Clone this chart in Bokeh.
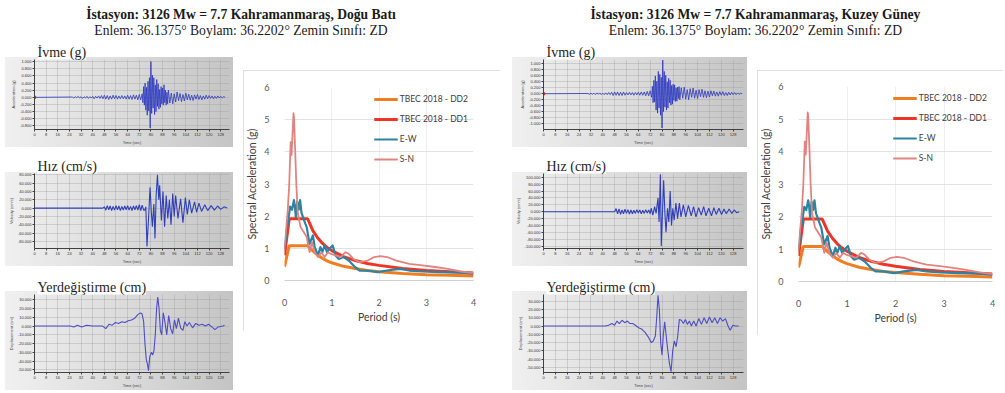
from bokeh.plotting import figure
from bokeh.models import Div, Spacer, Range1d, FixedTicker, NumeralTickFormatter
from bokeh.layouts import row, column
from bokeh.embed import file_html
from bokeh.resources import INLINE

# ---------------- station headers ----------------
HEAD_EW = "İstasyon: 3126 Mw = 7.7 Kahramanmaraş, Doğu Batı"
HEAD_NS = "İstasyon: 3126 Mw = 7.7 Kahramanmaraş, Kuzey Güney"
SUBHEAD = "Enlem: 36.1375° Boylam: 36.2202° Zemin Sınıfı: ZD"

PANEL_TITLES = ["İvme (g)", "Hız (cm/s)", "Yerdeğiştirme (cm)"]
TIME_TICKS = [0, 8, 16, 24, 32, 40, 48, 56, 64, 72, 80, 88, 96, 104, 112, 120, 128]

# ---------------- E-W (Doğu Batı) records ----------------
ACC_EW_NOISE = [0.01, -0.02, 0.02, -0.01, 0.03, -0.02, 0.02, -0.03, 0.02, -0.02,
                0.03, -0.03, 0.02, -0.02, 0.03, -0.04, 0.03, -0.02, 0.04, -0.03,
                0.05, -0.04, 0.06, -0.05, 0.05, -0.06, 0.04, -0.05, 0.06, -0.04,
                0.05, -0.05, 0.04, -0.04, 0.05, -0.04, 0.04, -0.05, 0.06, -0.05,
                0.05, -0.06, 0.07, -0.05, 0.06, -0.07, 0.08, -0.07, 0.10]          # t = 26 .. 74, dt 1
ACC_EW_STRONG = [-0.15, 0.30, -0.22, 0.40, -0.36, 0.28, -0.50, 0.45, -0.38, 0.55,
                 -0.86, 1.00, -0.45, 0.62, -0.30, 0.55, -0.48, 0.35, -0.40, 0.50,
                 -0.25, 0.38, -0.33, 0.22, -0.28, 0.30, -0.18, 0.26, -0.22, 0.35,
                 -0.15, 0.20, -0.22, 0.14, -0.18, 0.20]                            # t = 74.5 .. 92, dt 0.5
ACC_EW_TAIL = [-0.16, 0.12, -0.18, 0.10, -0.13, 0.15, -0.09, 0.11, -0.12, 0.08,
               -0.10, 0.12, -0.07, 0.09, -0.08, 0.06, -0.09, 0.07, -0.05, 0.08,
               -0.06, 0.05, -0.07, 0.04, -0.05, 0.06, -0.04, 0.05, -0.03, 0.04,
               -0.04, 0.03, -0.03, 0.04, -0.02, 0.03, -0.02, 0.02, 0.0]            # t = 93 .. 131, dt 1

VEL_EW_NOISE = [3, -5, 6, -4, 5, -6, 4, -5, 6, -4, 5, -6, 4, -5, 5, -4, 6, -5, 4, -6,
                5, -4, 6, -5, 8, -6, 7, -5]                                          # t = 48 .. 75, dt 1
VEL_EW_T = [75.8, 76.5, 77.3, 78.3, 79.4, 80.3, 81.0, 82.0, 82.8, 83.6,
            84.5, 85.4, 86.0, 87.2, 88.3, 89.4, 90.5, 91.6, 92.7, 93.8,
            95.0, 96.0, 97.0, 98.6, 100.4, 102.0, 103.7, 105.0, 106.4, 108.0,
            110.0, 111.4, 113.0, 114.8, 117.0, 119.0, 121.4, 123.6, 125.8, 128.0,
            130.2, 132.4]
VEL_EW_V = [-5, 3, -92, -30, 50, -10, -45, 10, -73, 30,
            80, 20, 55, -30, 40, -45, 30, -25, 20, -40,
            35, -20, 30, -25, 22, -35, 25, -15, 20, -12,
            15, -10, 12, -8, 8, -6, 6, -5, 5, -3,
            3, 0]

DISP_EW_T = [0, 24.7, 27.0, 29.5, 32.4, 35.8, 40.0, 46.8, 49.0, 51.2,
             53.4, 55.6, 57.8, 60.0, 62.2, 64.4, 66.6, 68.9, 71.0, 72.8,
             73.9, 75.0, 75.9, 76.8, 77.7, 78.3, 79.2, 80.3, 81.2, 82.1,
             83.0, 83.9, 84.7, 85.6, 86.5, 87.4, 88.5, 89.6, 90.9, 92.2,
             93.6, 94.9, 96.2, 97.5, 98.9, 100.4, 102.0, 103.3, 104.8, 106.4,
             108.6, 110.8, 113.0, 115.2, 117.4, 119.6, 121.8, 124.0, 126.2, 129.5,
             130.6]
DISP_EW_V = [0, 0, -1, 1, -1, 1, 0, 0, -3, 2,
             1, 4, 3, 5, 4, 6, 7, 9, 13, 15,
             14, 5, -20, -38, -44, -51, -35, -30, -33, -28,
             -10, 20, 33, 20, -5, -10, 15, 5, -10, 12,
             -3, -9, 7, -3, 9, -2, -5, 5, 0, 4,
             -2, 3, 1, 2, 0, 2, -1, -4, -1, 0,
             1]

# ---------------- N-S (Kuzey Güney) records ----------------
ACC_NS_NOISE = [0.01, -0.02, 0.02, -0.02, 0.02, -0.03, 0.03, -0.02, 0.03, -0.03,
                0.02, -0.03, 0.03, -0.03, 0.04, -0.03, 0.05, -0.06, 0.06, -0.05,
                0.06, -0.06, 0.05, -0.06, 0.06, -0.05, 0.04, -0.04, 0.05, -0.04,
                0.04, -0.05, 0.04, -0.04, 0.05, -0.05, 0.06, -0.05, 0.06, -0.07,
                0.08, -0.07, 0.10, -0.12]                                          # t = 30 .. 73, dt 1
ACC_NS_STRONG = [0.25, -0.30, 0.45, -0.28, 0.60, -0.55, 0.42, -0.65, 0.75, -0.48,
                 0.65, -0.72, 0.55, -1.15, 1.13, -0.60, 0.75, -0.45, 0.62, -0.55,
                 0.40, -0.48, 0.52, -0.30, 0.45, -0.38, 0.28, -0.35, 0.32, -0.22,
                 0.30, -0.26, 0.20, -0.25, 0.22, -0.16, 0.24, -0.20]              # t = 73.5 .. 92, dt 0.5
ACC_NS_TAIL = [0.20, -0.15, 0.22, -0.18, 0.14, -0.20, 0.17, -0.12, 0.19, -0.15,
               0.12, -0.16, 0.14, -0.10, 0.15, -0.12, 0.10, -0.13, 0.09, -0.11,
               0.10, -0.07, 0.09, -0.08, 0.06, -0.08, 0.07, -0.05, 0.07, -0.06,
               0.04, -0.06, 0.05, -0.04, 0.05, -0.03, 0.04, -0.03, 0.03, -0.02,
               0.02, 0.0]                                                          # t = 93 .. 134, dt 1

VEL_NS_NOISE = [0, 9, -6, 8, -8, 5, -6, 7, -5, 6, -7, 5, -6, 4, -5, 6, -4, 5, -6, 4,
                -5, 6, -4, 5, -6]                                                  # t = 48 .. 72, dt 1
VEL_NS_T = [72.7, 73.8, 75.0, 76.0, 77.3, 78.0, 78.9, 79.5, 80.5, 81.1,
            82.0, 82.7, 83.7, 84.6, 85.5, 86.4, 87.3, 88.2, 89.4, 90.5,
            91.7, 92.8, 94.4, 96.0, 97.8, 99.7, 101.3, 102.9, 104.7, 106.5,
            108.1, 109.7, 111.5, 113.4, 115.0, 116.6, 118.4, 120.2, 121.8, 123.4,
            125.3, 127.1, 128.7, 130.3, 132.1]
VEL_NS_V = [10, -10, 15, -5, 40, -30, 109, -100, 20, 91,
            -10, -60, 10, -30, 60, -40, 10, -25, 25, -20,
            25, -15, 20, -15, 18, -12, 15, -15, 12, -10,
            15, -12, 10, -12, 12, -8, 10, -8, 8, -6,
            8, -5, 5, -3, 0]

DISP_NS_T = [0, 41.7, 43.9, 46.2, 48.0, 49.6, 51.2, 53.0, 54.8, 56.6,
             58.4, 60.2, 62.0, 64.2, 66.5, 68.7, 71.0, 72.8, 74.1, 75.5,
             76.4, 77.3, 78.2, 79.1, 80.0, 80.9, 81.8, 82.7, 83.8, 85.0,
             86.1, 87.2, 88.3, 89.5, 90.6, 91.7, 93.1, 94.4, 95.8, 97.1,
             98.5, 99.8, 101.4, 103.0, 104.8, 106.6, 108.4, 110.2, 112.0, 113.8,
             115.6, 117.4, 119.2, 121.0, 122.8, 124.6, 126.0, 127.8, 129.6, 131.8]
DISP_NS_V = [0, 0, 1, 3, 1, 6, 3, 7, 4, 6,
             3, 3, 1, -2, -4, -8, -14, -20, -18, -12,
             10, 37, 20, -20, -35, -10, 5, -10, -28, -45,
             -55, -30, -18, -25, -12, 8, 7, 3, 8, 2,
             6, 0, 6, 0, 9, 2, 10, 3, 11, 4,
             10, 3, 10, 6, 9, 0, -5, 1, 0, 0]

# ---------------- response spectra ----------------
PERIOD_CODE = [0, 0.1, 0.49, 0.6, 0.7, 0.8, 0.9, 1.0, 1.25, 1.5, 1.75, 2.0, 2.5, 3.0, 3.5, 4.0]
SA_DD2 = [0.43, 1.08, 1.08, 0.92, 0.79, 0.69, 0.61, 0.55, 0.44, 0.37, 0.31, 0.275, 0.22, 0.18, 0.16, 0.14]
SA_DD1 = [0.78, 1.92, 1.92, 1.55, 1.33, 1.16, 1.03, 0.93, 0.74, 0.62, 0.53, 0.47, 0.37, 0.31, 0.27, 0.23]

PERIOD_EW = [0, 0.05, 0.12, 0.16, 0.2, 0.22, 0.24, 0.27, 0.3, 0.33,
             0.36, 0.44, 0.47, 0.53, 0.6, 0.64, 0.71, 0.76, 0.8, 0.85,
             0.9, 0.96, 1.02, 1.08, 1.15, 1.25, 1.36, 1.49, 1.59, 1.76,
             1.97, 2.17, 2.44, 2.64, 2.92, 3.32, 3.66, 4.0]
SA_EW = [0.99, 1.6, 2.3, 2.2, 2.5, 2.3, 1.97, 2.45, 2.2, 2.5,
         2.1, 1.77, 1.66, 1.14, 1.4, 1.04, 0.78, 1.04, 0.88, 1.09,
         0.88, 1.0, 1.09, 0.78, 0.67, 0.73, 0.62, 0.42, 0.31, 0.31,
         0.26, 0.31, 0.36, 0.31, 0.28, 0.26, 0.25, 0.21]

PERIOD_SN = [0, 0.07, 0.1, 0.13, 0.15, 0.19, 0.2, 0.22, 0.25, 0.28,
             0.34, 0.41, 0.47, 0.53, 0.58, 0.64, 0.71, 0.78, 0.85, 0.92,
             0.98, 1.08, 1.19, 1.29, 1.36, 1.46, 1.59, 1.76, 1.9, 2.03,
             2.17, 2.37, 2.64, 2.92, 3.19, 3.46, 3.73, 4.0]
SA_SN = [0.99, 2.2, 3.0, 4.3, 3.9, 5.2, 5.1, 4.3, 3.0, 2.1,
         1.66, 1.5, 1.35, 0.88, 1.19, 0.88, 0.73, 0.88, 0.73, 0.88,
         0.83, 0.78, 0.73, 0.88, 0.83, 0.67, 0.57, 0.62, 0.73, 0.76,
         0.73, 0.62, 0.52, 0.47, 0.42, 0.36, 0.28, 0.23]


def sample_times(start, step, values):
    return [start + i * step for i in range(len(values))]


def join(*parts):
    ts, vs = [], []
    for t, v in parts:
        ts += list(t)
        vs += list(v)
    return ts, vs


acc_ew = join(([0], [0]), (sample_times(26, 1, ACC_EW_NOISE), ACC_EW_NOISE),
              (sample_times(74.5, 0.5, ACC_EW_STRONG), ACC_EW_STRONG),
              (sample_times(93, 1, ACC_EW_TAIL), ACC_EW_TAIL))
vel_ew = join(([0, 47], [0, 0]), (sample_times(48, 1, VEL_EW_NOISE), VEL_EW_NOISE),
              (VEL_EW_T, VEL_EW_V))
disp_ew = (DISP_EW_T, DISP_EW_V)

acc_ns = join(([0], [0]), (sample_times(30, 1, ACC_NS_NOISE), ACC_NS_NOISE),
              (sample_times(73.5, 0.5, ACC_NS_STRONG), ACC_NS_STRONG),
              (sample_times(93, 1, ACC_NS_TAIL), ACC_NS_TAIL))
vel_ns = join(([0, 47], [0, 0]), (sample_times(48, 1, VEL_NS_NOISE), VEL_NS_NOISE),
              (VEL_NS_T, VEL_NS_V))
disp_ns = (DISP_NS_T, DISP_NS_V)

SERIF = "Liberation Serif, Times New Roman, Tinos, DejaVu Serif, serif"
SANS = "Lato"


def record_panel(title, series, yr, ystep, ylabel, xend, width, height, band,
                 border_left, color, lw, marker=False):
    t, v = series
    gradient = ("linear-gradient(to bottom, #ffffff %dpx, rgba(255,255,255,0) %dpx), "
                "linear-gradient(to right, #f0f0f0 0%%, #dadada 55%%, #c4c4c4 100%%)" % (band, band))
    p = figure(width=width, height=height, output_backend="svg", toolbar_location=None,
               x_range=Range1d(0, xend), y_range=Range1d(*yr),
               min_border_left=border_left, min_border_right=4, min_border_bottom=6,
               min_border_top=0, border_fill_alpha=0, background_fill_alpha=0,
               outline_line_color=None, styles={"background": gradient})
    p.title.text = title
    p.title.text_font = SERIF
    p.title.text_font_size = "14px"
    p.title.text_font_style = "normal"
    p.title.text_color = "#1e1e1e"
    p.title.background_fill_color = "white"
    p.title.offset = 3
    p.title.standoff = 0
    ticks = []
    k = 0
    while -k * ystep >= yr[0]:
        ticks.append(-k * ystep)
        k += 1
    k = 1
    while k * ystep <= yr[1]:
        ticks.append(k * ystep)
        k += 1
    p.yaxis.ticker = FixedTicker(ticks=sorted(ticks))
    p.xaxis.ticker = FixedTicker(ticks=TIME_TICKS)
    p.yaxis.formatter = NumeralTickFormatter(format="0.000")
    for ax in (p.xaxis[0], p.yaxis[0]):
        ax.major_label_text_font_size = "4px"
        ax.major_label_text_color = "#333333"
        ax.axis_label_text_font_size = "4px"
        ax.axis_label_text_font_style = "normal"
        ax.axis_label_standoff = 1
        ax.major_label_standoff = 1
        ax.major_tick_out = 2
        ax.major_tick_in = 0
        ax.minor_tick_out = 0
        ax.minor_tick_in = 0
        ax.axis_line_color = "#404040"
        ax.major_tick_line_color = "#404040"
    p.xaxis.axis_label = "Time (sec)"
    p.yaxis.axis_label = ylabel
    p.xgrid.grid_line_color = "#9a9a9a"
    p.xgrid.grid_line_alpha = 0.35
    p.ygrid.grid_line_color = "#9a9a9a"
    p.ygrid.grid_line_alpha = 0.35
    p.line(t, v, line_color=color, line_width=lw)
    if marker:
        p.scatter(t[:1], v[:1], size=3, color="#c0392b")
    return p


def spectrum_panel(width, height, bl, br, bt, bb):
    p = figure(width=width, height=height, output_backend="svg", toolbar_location=None,
               x_range=Range1d(0, 4), y_range=Range1d(0, 6),
               min_border_left=bl, min_border_right=br, min_border_top=bt, min_border_bottom=bb,
               outline_line_color=None, background_fill_color="white", border_fill_color="white",
               styles={"outline": "1px solid #d6d6d6", "outline-offset": "-1px"})
    p.xaxis.ticker = FixedTicker(ticks=[0, 1, 2, 3, 4])
    p.yaxis.ticker = FixedTicker(ticks=[0, 1, 2, 3, 4, 5, 6])
    for ax in (p.xaxis[0], p.yaxis[0]):
        ax.major_label_text_font = SANS
        ax.major_label_text_font_size = "9px"
        ax.major_label_text_color = "#595959"
        ax.axis_label_text_font = SANS
        ax.axis_label_text_font_size = "10.5px"
        ax.axis_label_text_font_style = "normal"
        ax.axis_label_text_color = "#404040"
        ax.major_tick_line_color = None
        ax.minor_tick_line_color = None
    p.xaxis.axis_label = "Period (s)"
    p.yaxis.axis_label = "Spectral Acceleration (g)"
    p.xaxis.axis_line_color = "#d0d0d0"
    p.yaxis.axis_line_color = None
    p.xaxis.major_label_standoff = 12
    p.yaxis.major_label_standoff = 9
    p.xaxis.axis_label_standoff = 2
    p.yaxis.axis_label_standoff = 3
    p.xgrid.grid_line_color = "#eeeeee"
    p.ygrid.grid_line_color = "#e2e2e2"

    p.line(PERIOD_CODE, SA_DD2, line_color="#ef7d22", line_width=3, legend_label="TBEC 2018 - DD2")
    p.line(PERIOD_CODE, SA_DD1, line_color="#ec3526", line_width=3, legend_label="TBEC 2018 - DD1")
    p.line(PERIOD_EW, SA_EW, line_color="#2d83a4", line_width=2.2, line_join="round", legend_label="E-W")
    p.line(PERIOD_SN, SA_SN, line_color="#e08480", line_width=1.8, line_join="round", legend_label="S-N")

    lg = p.legend[0]
    lg.location = "top_right"
    lg.margin = 3
    lg.padding = 2
    lg.spacing = 6
    lg.glyph_width = 24
    lg.glyph_height = 14
    lg.label_height = 14
    lg.label_standoff = 2
    lg.label_text_font = SANS
    lg.label_text_font_size = "8.5px"
    lg.label_text_color = "#404040"
    lg.background_fill_alpha = 0
    lg.border_line_alpha = 0
    return p


def header(text1, width, shift):
    html = ('<div style="box-sizing:border-box; padding-top:7px; padding-left:%dpx; padding-right:%dpx; '
            'line-height:16px; text-align:center; font-family:\'Liberation Serif\', \'Times New Roman\', '
            'Tinos, \'DejaVu Serif\', serif; font-size:13.6px; color:#1a1a1a; width:%dpx">'
            '<b>%s</b><br>%s</div>' % (max(shift, 0), max(-shift, 0), width, text1, SUBHEAD))
    return Div(text=html, width=width, height=42, margin=0)


def half(head, shift, acc, vel, disp, xend, ts_w, ts_bl, spec_args, lead, gap,
         acc_rng, vel_rng, disp_rng):
    a = record_panel(PANEL_TITLES[0], acc, acc_rng, 0.2, "Acceleration (g)", xend, ts_w, 105, 15,
                     ts_bl, "#2a36c0", 0.8, marker=True)
    v = record_panel(PANEL_TITLES[1], vel, vel_rng, 20, "Velocity (cm/s)", xend, ts_w, 110, 16,
                     ts_bl, "#2f3fbb", 1.1)
    d = record_panel(PANEL_TITLES[2], disp, disp_rng, 10, "Displacement (cm)", xend, ts_w, 113, 14,
                     ts_bl, "#4d4dc4", 1.1)
    s = spectrum_panel(*spec_args)
    ts_col = column(a, Spacer(height=9), v, Spacer(height=11), d, spacing=0)
    body = row(Spacer(width=lead), ts_col, Spacer(width=gap), column(Spacer(height=28), s, spacing=0),
               spacing=0)
    total = spec_args[0] + ts_w + lead + gap
    return column(header(head, total, shift), body, spacing=0)


left = half(HEAD_EW, -18, acc_ew, vel_ew, disp_ew, 134, 228, 22, (257, 261, 34, 27, 17, 51), 5, 10,
            (-0.9, 1.06), (-97, 83), (-53, 36))
right = half(HEAD_NS, 8, acc_ns, vel_ns, disp_ns, 135, 235, 31, (246, 265, 36, 11, 16, 54), 12, 10,
             (-1.2, 1.15), (-107, 111), (-56, 38))

page = row(left, right, spacing=0)

open("out.html", "w").write(file_html(page, INLINE))
